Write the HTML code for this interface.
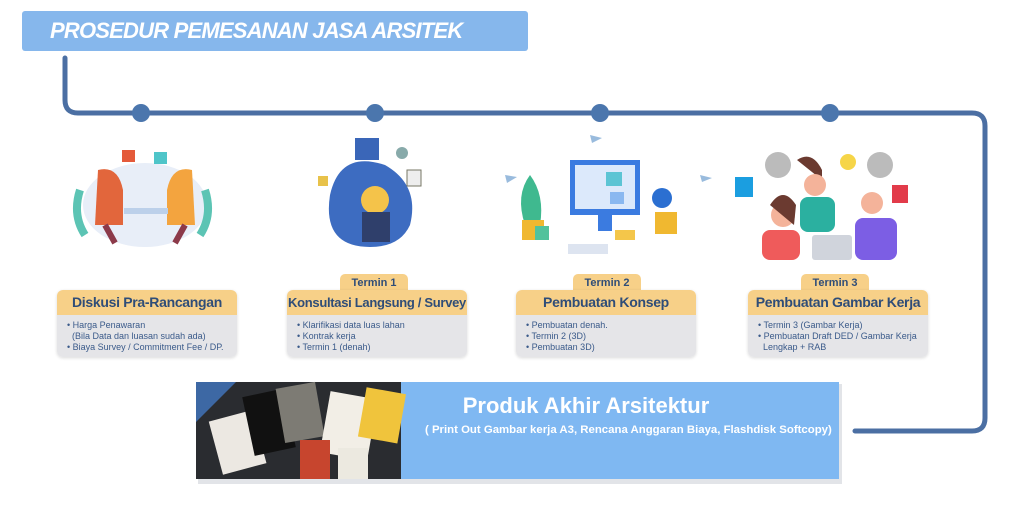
<!DOCTYPE html>
<html><head><meta charset="utf-8"><style>
*{margin:0;padding:0;box-sizing:border-box}
body{width:1024px;height:505px;background:#fff;position:relative;overflow:hidden;font-family:"Liberation Sans",sans-serif}
.abs{position:absolute}
.title{left:22px;top:11px;width:506px;height:40px;background:#86b7ec;border-radius:3px;color:#fff;font-style:italic;font-weight:bold;font-size:22px;line-height:40px;padding-left:28px;letter-spacing:-0.8px}
.box{position:absolute;width:180px;border-radius:6px;overflow:hidden;box-shadow:0 1px 3px rgba(0,0,0,.15)}
.hd{background:#f7d088;color:#2f4d78;font-weight:bold;font-size:14px;text-align:center;height:25px;line-height:25px;white-space:nowrap;letter-spacing:-0.3px}
.bd{background:#e5e5e8;color:#3a5a8a;font-size:9px;line-height:11px;padding:5px 6px 0 10px;height:42px;white-space:nowrap}
.tab{position:absolute;background:#f7d088;color:#2f4d78;font-weight:bold;font-size:11px;text-align:center;height:18px;line-height:18px;border-radius:5px 5px 0 0;width:68px}
</style></head><body>
<svg class="abs" style="left:0;top:0" width="1024" height="505">
<path d="M65 58 V100 Q65 113 78 113 H972 Q985 113 985 126 V418 Q985 431 972 431 H855" fill="none" stroke="#4b6fa3" stroke-width="5" stroke-linecap="round"/>
<circle cx="141" cy="113" r="9" fill="#4b76ad"/>
<circle cx="375" cy="113" r="9" fill="#4b76ad"/>
<circle cx="600" cy="113" r="9" fill="#4b76ad"/>
<circle cx="830" cy="113" r="9" fill="#4b76ad"/>
<ellipse cx="145" cy="205" rx="62" ry="42" fill="#e8eef8"/>
<path d="M80 190 q-8 25 5 45 M205 190 q8 25 -5 45" stroke="#5cc4b4" stroke-width="8" fill="none"/>
<rect x="122" y="150" width="13" height="12" fill="#e45a3a"/><rect x="154" y="152" width="13" height="12" fill="#4fc5c9"/>
<path d="M98 170 q20 -5 25 20 l0 35 -28 0z" fill="#e2663c"/><path d="M192 170 q-20 -5 -25 20 l0 35 28 0z" fill="#f3a43f"/>
<rect x="124" y="208" width="44" height="6" fill="#bcd0ea"/>
<path d="M105 225 l10 18 M185 225 l-10 18" stroke="#8c3a4a" stroke-width="6"/>
<path d="M330 195 q10 -45 55 -30 q35 20 25 60 q-10 22 -40 22 q-48 0 -40 -52z" fill="#3d6cc1"/>
<rect x="355" y="138" width="24" height="22" fill="#3a66b8"/>
<circle cx="375" cy="200" r="14" fill="#f4c34a"/><rect x="362" y="212" width="28" height="30" fill="#2f3f6b"/>
<rect x="407" y="170" width="14" height="16" fill="#eee" stroke="#776" />
<circle cx="402" cy="153" r="6" fill="#8aa"/><rect x="318" y="176" width="10" height="10" fill="#e8c24a"/>
<rect x="570" y="160" width="70" height="55" fill="#3b7be0"/><rect x="575" y="165" width="60" height="44" fill="#dce9fb"/>
<rect x="606" y="172" width="16" height="14" fill="#5cc4d4"/><rect x="610" y="192" width="14" height="12" fill="#8ab8f0"/>
<rect x="598" y="215" width="14" height="16" fill="#3b7be0"/>
<path d="M525 225 q-10 -30 5 -50 q15 20 10 50z" fill="#3fb98f"/><rect x="522" y="220" width="22" height="20" fill="#f0b830"/>
<circle cx="662" cy="198" r="10" fill="#2b6fd1"/><rect x="655" y="212" width="22" height="22" fill="#f0b830"/>
<rect x="615" y="230" width="20" height="10" fill="#f4c64a"/><rect x="568" y="244" width="40" height="10" fill="#dde4f0"/>
<rect x="535" y="226" width="14" height="14" fill="#52c29c"/>
<path d="M590 135 l12 3 -10 5z M505 175 l12 2 -10 6z M700 175 l12 3 -10 4z" fill="#9bd"/>
<circle cx="778" cy="165" r="13" fill="#bbb"/><circle cx="880" cy="165" r="13" fill="#bbb"/><circle cx="848" cy="162" r="8" fill="#f6d548"/>
<rect x="735" y="177" width="18" height="20" fill="#1b9ee0"/><rect x="892" y="185" width="16" height="18" fill="#e23b4a"/>
<path d="M797 160 q15 -10 25 10 l0 10 z" fill="#6b3a30"/><circle cx="815" cy="185" r="11" fill="#f4b39a"/>
<rect x="800" y="197" width="35" height="35" rx="8" fill="#2bb0a0"/>
<circle cx="783" cy="215" r="12" fill="#f4b39a"/><path d="M770 205 q13 -20 26 0 l-2 20 z" fill="#6b3a30"/>
<rect x="762" y="230" width="38" height="30" rx="8" fill="#ef5b5b"/>
<circle cx="872" cy="203" r="11" fill="#f4b39a"/><rect x="855" y="218" width="42" height="42" rx="8" fill="#7c5ee4"/>
<rect x="812" y="235" width="40" height="25" rx="3" fill="#d0d4dc"/>
<rect x="198" y="384" width="644" height="100" fill="#e2e4e8"/>
<rect x="196" y="382" width="643" height="97" fill="#7fb8f2"/>
<rect x="196" y="382" width="205" height="97" fill="#2a2c30"/>
<path d="M196 382 h40 l-40 40z" fill="#3d68a4"/>
<rect x="215" y="415" width="45" height="55" fill="#ece8e2" transform="rotate(-15 237 442)"/>
<rect x="248" y="392" width="42" height="60" fill="#111" transform="rotate(-12 270 422)"/>
<rect x="280" y="385" width="40" height="55" fill="#7d7b74" transform="rotate(-10 300 412)"/>
<rect x="325" y="395" width="48" height="62" fill="#f2eee6" transform="rotate(10 350 425)"/>
<rect x="362" y="390" width="40" height="50" fill="#f0c43c" transform="rotate(10 380 415)"/>
<rect x="300" y="440" width="30" height="39" fill="#c7452e"/>
<rect x="338" y="448" width="30" height="31" fill="#ece9e0"/>
</svg>
<div class="abs title">PROSEDUR PEMESANAN JASA ARSITEK</div>

<div class="box" style="left:57px;top:290px"><div class="hd">Diskusi Pra-Rancangan</div><div class="bd">• Harga Penawaran<br>&nbsp;&nbsp;(Bila Data dan luasan sudah ada)<br>• Biaya Survey / Commitment Fee / DP.</div></div>

<div class="tab" style="left:340px;top:274px">Termin 1</div>
<div class="box" style="left:287px;top:290px"><div class="hd" style="font-size:13px">Konsultasi Langsung / Survey</div><div class="bd">• Klarifikasi data luas lahan<br>• Kontrak kerja<br>• Termin 1 (denah)</div></div>

<div class="tab" style="left:573px;top:274px">Termin 2</div>
<div class="box" style="left:516px;top:290px"><div class="hd">Pembuatan Konsep</div><div class="bd">• Pembuatan denah.<br>• Termin 2 (3D)<br>• Pembuatan 3D)</div></div>

<div class="tab" style="left:801px;top:274px">Termin 3</div>
<div class="box" style="left:748px;top:290px"><div class="hd">Pembuatan Gambar Kerja</div><div class="bd">• Termin 3 (Gambar Kerja)<br>• Pembuatan Draft DED / Gambar Kerja<br>&nbsp;&nbsp;Lengkap + RAB</div></div>

<div class="abs" style="left:436px;top:393px;width:300px;text-align:center;color:#fff;font-weight:bold;font-size:22px">Produk Akhir Arsitektur</div>
<div class="abs" style="left:425px;top:424px;width:420px;text-align:left;color:#fff;font-weight:bold;font-size:11.4px;white-space:nowrap">( Print Out Gambar kerja A3, Rencana Anggaran Biaya, Flashdisk Softcopy)</div>
</body></html>
